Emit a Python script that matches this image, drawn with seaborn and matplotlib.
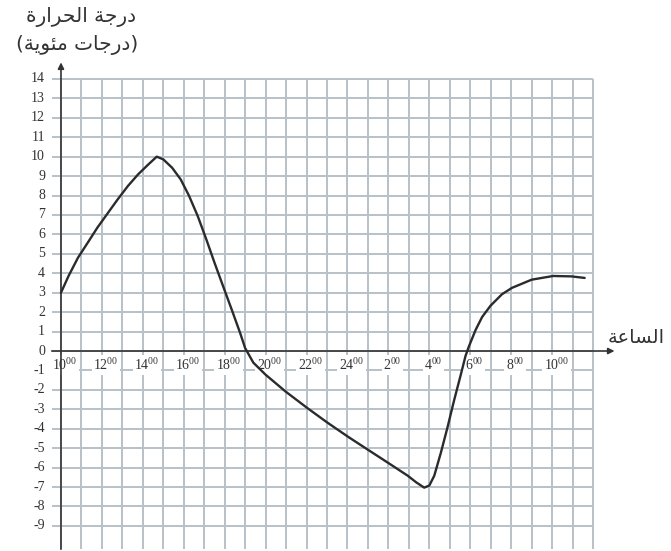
import matplotlib
matplotlib.use("Agg")
import matplotlib.pyplot as plt
import seaborn as sns
import pandas as pd

# ==========================================
# Data
# ==========================================

hours = [10, 10.37, 10.83, 11.36, 11.78, 12.36, 12.77, 13.27, 13.77, 14.27,
         14.68, 15.0, 15.43, 15.85, 16.26, 16.68, 17.1, 17.5, 17.92, 18.34,
         18.75, 19.0, 19.4, 20.0, 20.97, 22.02, 23.0, 24.04, 25.0, 25.98,
         26.95, 27.35, 27.75, 28.0, 28.24, 28.56, 28.89, 29.2, 29.53, 29.77,
         29.94, 30.26, 30.58, 30.99, 31.55, 32.04, 33.0, 34.05, 34.94, 35.59]
temps = [3.0, 3.86, 4.8, 5.66, 6.35, 7.2, 7.8, 8.49, 9.09, 9.6,
         10.0, 9.86, 9.43, 8.83, 7.98, 6.95, 5.75, 4.55, 3.34, 2.14,
         0.94, 0.15, -0.6, -1.22, -2.08, -2.92, -3.67, -4.42, -5.08, -5.75,
         -6.42, -6.75, -7.03, -6.92, -6.42, -5.25, -3.92, -2.58, -1.25, -0.25,
         0.25, 1.08, 1.75, 2.33, 2.92, 3.25, 3.67, 3.86, 3.84, 3.76]

x_ticks = [10, 12, 14, 16, 18, 20, 22, 24, 26, 28, 30, 32, 34]
x_tick_labels = ["10", "12", "14", "16", "18", "20", "22", "24",
                 "2", "4", "6", "8", "10"]
y_ticks = list(range(-9, 15))

# Arabic labels, pre-shaped (presentation forms, visual order)
y_title_1 = "\uFE93\uFEAD\uFE8D\uFEAE\uFEA4\uFEDF\uFE8D" + " " + "\uFE94\uFE9F\uFEAD\uFEA9"
y_title_2 = "(" + "\uFE94\uFEF3\uFEEE\uFE8C\uFEE3" + " " + "\uFE95\uFE8E\uFE9F\uFEAD\uFEA9" + ")"
x_title = "\uFE94\uFECB\uFE8E\uFEB4\uFEDF\uFE8D"

df = pd.DataFrame({"hour": hours, "temp": temps})

# ==========================================
# Figure
# ==========================================

sns.set_style("white")
plt.rcParams["font.family"] = ["Liberation Serif", "DejaVu Sans"]
plt.rcParams["mathtext.fontset"] = "custom"
plt.rcParams["mathtext.rm"] = "Liberation Serif"

fig = plt.figure(figsize=(6.71, 5.51), dpi=100)
ax = fig.add_axes([0, 0, 1, 1])
ax.set_xlim(7.02, 39.81)
ax.set_ylim(-10.29, 18.06)
ax.axis("off")

grid_color = "#b9c1c8"

# grid
ax.vlines(range(10, 37), -10.2, 14, color=grid_color, lw=1.4, zorder=1)
ax.hlines(y_ticks, 9.55, 36, color=grid_color, lw=1.4, zorder=1)

# axes with arrows
ax.annotate("", xy=(10, 14.85), xytext=(10, -10.2),
            arrowprops=dict(arrowstyle="-|>", color="#333333", lw=1.2,
                            mutation_scale=9, shrinkA=0, shrinkB=0), zorder=3)
ax.annotate("", xy=(37.05, 0), xytext=(9.55, 0),
            arrowprops=dict(arrowstyle="-|>", color="#333333", lw=1.2,
                            mutation_scale=9, shrinkA=0, shrinkB=0), zorder=3)

# curve
sns.lineplot(data=df, x="hour", y="temp", color="#2b2b2b", lw=1.7,
             sort=False, ax=ax, zorder=4)

# tick labels
for v in y_ticks:
    ax.text(9.22, v, str(v), ha="right", va="center", fontsize=10,
            color="#333333")

for h, lab in zip(x_ticks, x_tick_labels):
    ax.text(h + 0.2, -0.72, r"$\mathrm{" + lab + "^{00}}$", ha="center",
            va="center", fontsize=10, color="#333333", zorder=2,
            bbox=dict(facecolor="white", edgecolor="none", pad=1.2))

# titles
ax.text(11.0, 17.19, y_title_1, ha="center", va="center", fontsize=14.5,
        family="DejaVu Sans", color="#333333")
ax.text(10.78, 15.75, y_title_2, ha="center", va="center", fontsize=14.5,
        family="DejaVu Sans", color="#333333")
ax.text(38.1, 0.67, x_title, ha="center", va="center", fontsize=14,
        family="DejaVu Sans", color="#333333")

plt.savefig("out.png", dpi=100)
